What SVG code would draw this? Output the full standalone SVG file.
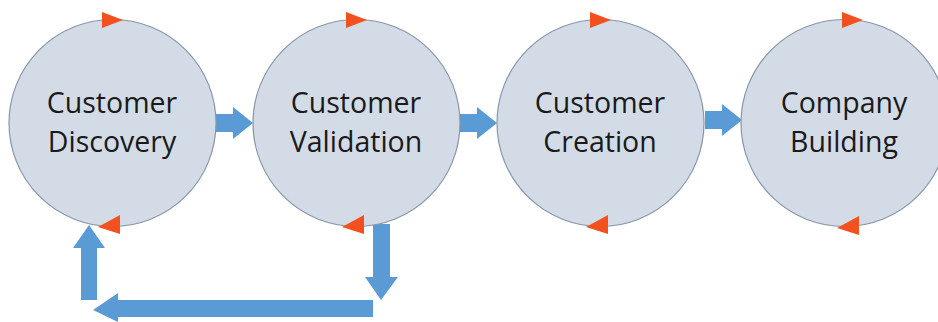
<svg xmlns="http://www.w3.org/2000/svg" width="938" height="322" viewBox="0 0 938 322">
<defs>
<style>
.c{fill:#d3dbe6;stroke:#8796a8;stroke-width:1.2}
.t{font-family:"Open Sans","Liberation Sans",sans-serif;font-size:28.5px;fill:#1a1a1a;text-anchor:middle}
.r{fill:#f2511f}
.b{fill:#5b9bd5}
</style>
</defs>
<rect width="938" height="322" fill="#ffffff"/>
<g id="connectors">
<polygon class="b" points="216,114 233,114 233,107 253,123 233,139 233,132 216,132"/>
<polygon class="b" points="460,114 477,114 477,107 497,123 477,139 477,132 460,132"/>
<polygon class="b" points="705,111 722,111 722,104 742,120 722,136 722,129 705,129"/>
<polygon class="b" points="373,224 390,224 390,277 398,277 381,300 365,277 373,277"/>
<polygon class="b" points="373,300 373,317 118,317 118,322 93,310 118,293 118,300"/>
<polygon class="b" points="81,300 97,300 97,248 105,248 89,225 73,248 81,248"/>
</g>
<g id="n1">
<circle class="c" cx="112.5" cy="123" r="103.5"/>
<polygon class="r" points="102,12 123,20 102,28"/>
<polygon class="r" points="120,215 98,227 120,234"/>
<text class="t" x="112" y="113">Customer</text>
<text class="t" x="112" y="152">Discovery</text>
</g>
<g id="n2">
<circle class="c" cx="356.5" cy="123" r="103.5"/>
<polygon class="r" points="346,12 367,20 346,28"/>
<polygon class="r" points="364,215 342,227 364,234"/>
<text class="t" x="356" y="113">Customer</text>
<text class="t" x="356" y="152">Validation</text>
</g>
<g id="n3">
<circle class="c" cx="600.5" cy="123" r="103.5"/>
<polygon class="r" points="590,12 611,20 590,28"/>
<polygon class="r" points="608,215 586,227 608,234"/>
<text class="t" x="600" y="113">Customer</text>
<text class="t" x="600" y="152">Creation</text>
</g>
<g id="n4">
<circle class="c" cx="844.5" cy="123" r="103.5"/>
<polygon class="r" points="842,12 863,20 842,28"/>
<polygon class="r" points="859,216 837,228 859,235"/>
<text class="t" x="844" y="113">Company</text>
<text class="t" x="844" y="152">Building</text>
</g>
</svg>
